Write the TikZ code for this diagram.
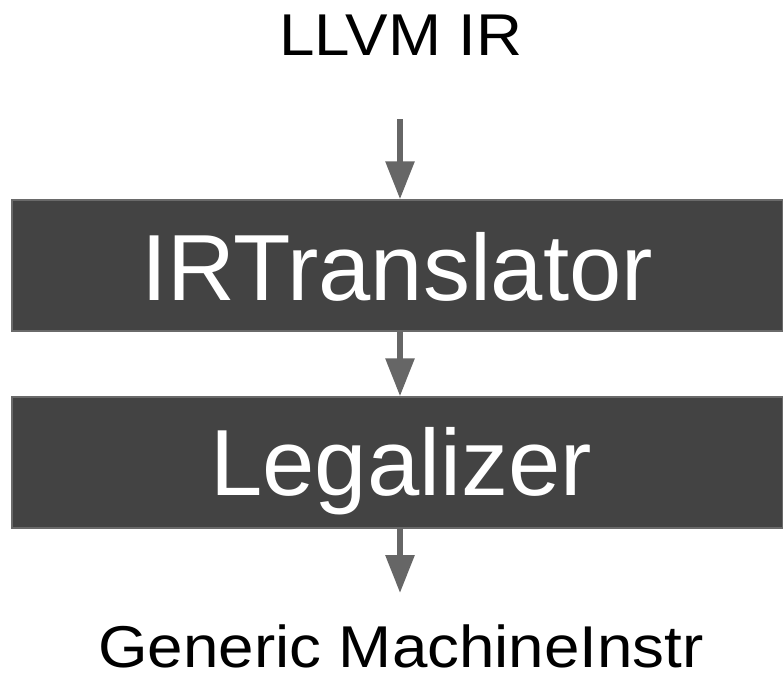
\documentclass[tikz,border=0pt]{standalone}
\usepackage{fontspec}
\setmainfont{Liberation Sans}
\newfontfamily\widesans[FakeStretch=1.08]{Liberation Sans}
\usetikzlibrary{arrows.meta}
\definecolor{boxfill}{HTML}{434343}
\definecolor{boxedge}{HTML}{6A6A6A}
\definecolor{arrowgray}{HTML}{666666}
\tikzset{
  stage/.style={rectangle, fill=boxfill, draw=boxedge, line width=1.5pt,
    minimum width=771pt, minimum height=131pt, inner sep=0pt},
  stagetext/.style={text=white, font=\fontsize{94}{94}\selectfont, anchor=base, inner sep=0pt},
  endtext/.style={text=black, font=\widesans\fontsize{59}{59}\selectfont, anchor=base, inner sep=0pt},
  flow/.style={draw=arrowgray, line width=6pt,
    -{Triangle[width=28pt, length=38pt]}, arrowgray, shorten >=0pt}
}
\begin{document}
\begin{tikzpicture}[x=1pt, y=-1pt]
  \useasboundingbox (0,0) rectangle (783,678);
  % pipeline stages
  \node[stage] (irt) at (397.5,265.5) {};
  \node[stage] (leg) at (397.5,462.5) {};
  \node[stagetext] (irtlabel) at (397,300) {IRTranslator};
  \node[stagetext] (leglabel) at (401,495) {Legalizer};
  % input and output labels
  \node[endtext] (llvm) at (401,55) {LLVM IR};
  \node[endtext] (gmi) at (401,667) {Generic MachineInstr};
  \coordinate (in) at (400,119);
  \coordinate (out) at (400,593);
  % data flow
  \draw[flow] (in) -- (in |- irt.north);
  \draw[flow] (in |- irt.south) -- (in |- leg.north);
  \draw[flow] (in |- leg.south) -- (out);
\end{tikzpicture}
\end{document}
